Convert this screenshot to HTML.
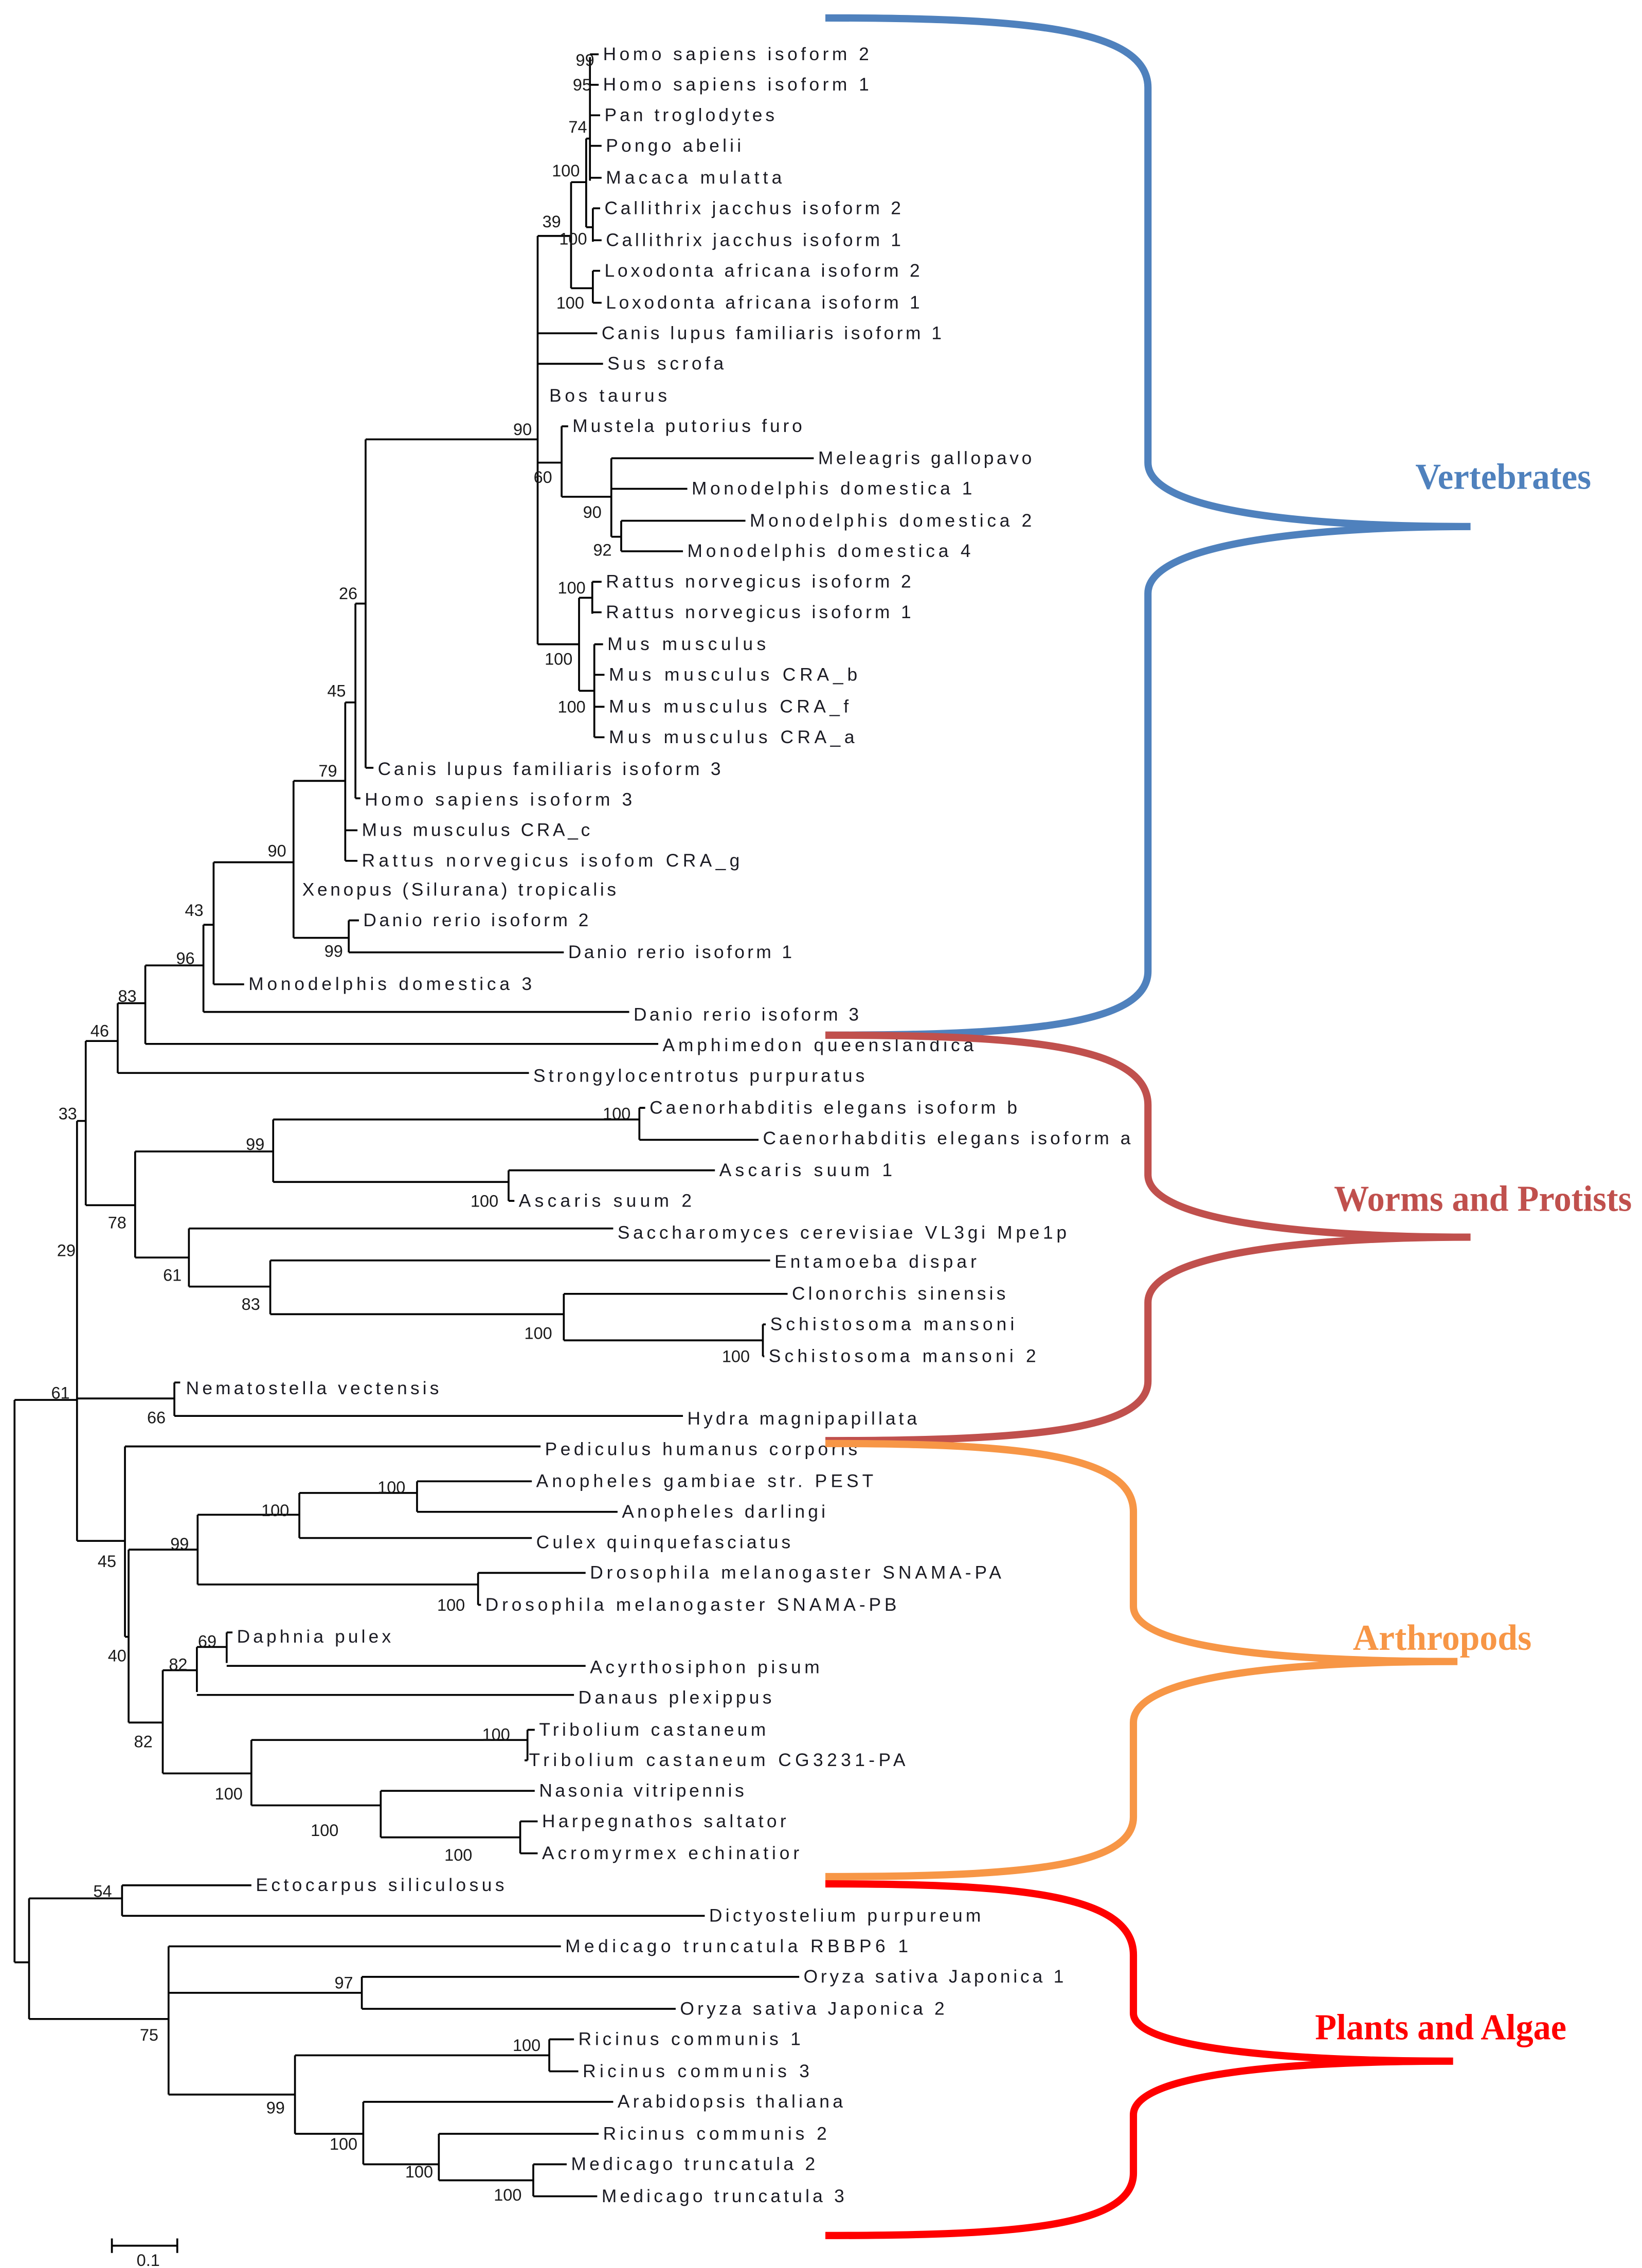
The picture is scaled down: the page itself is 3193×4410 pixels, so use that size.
<!DOCTYPE html>
<html><head><meta charset="utf-8"><style>
html,body{margin:0;padding:0;background:#fff;}
svg{display:block;}
.t{font-family:"Liberation Sans",sans-serif;font-size:12.5px;fill:#1a1a22;}
.b{font-family:"Liberation Sans",sans-serif;font-size:11.5px;fill:#1a1a1a;text-anchor:end;}
.g{font-family:"Liberation Serif",serif;font-weight:bold;font-size:25px;}
</style></head><body>
<svg width="3193" height="4410" viewBox="0 0 1130 1560" xmlns="http://www.w3.org/2000/svg">
<rect width="1130" height="1560" fill="#fff"/>
<g stroke="#000" stroke-width="1.3" fill="none">
<path d="M10 963V1350M10 963H53M10 1350H20
M53 771V1060M53 771H59M53 962H120M53 1060H86
M59 716V829M59 716H81M59 829H93
M81 690V738M81 690H100M81 738H364
M100 664V718M100 664H140M100 718H453
M140 636V696M140 636H147M140 696H433
M147 593V677M147 593H202M147 677H168
M202 537V645M202 537H237.6M202 645H240
M240 633V655M240 633H247M240 655H388
M237.6 483V592M237.6 483H244.6M237.6 571H246M237.6 592H246
M244.6 415V549M244.6 415H251.6M244.6 549H248
M251.6 302V528M251.6 302H370M251.6 528H257
M370 162V443M370 162H393M370 229H411M370 250H415M370 318H386.5M370 443H398.5
M393 125V198M393 125H403.4M393 198H408
M403.4 95V156M403.4 95H406M403.4 156H408
M406 39V124M406 37H412M406 58H412M406 79H413M406 100H414M406 122H414
M408 143V166M408 143H413M408 165H414
M408 186V208M408 186H413M408 208H414
M386.5 293V341.5M386.5 293H391M386.5 341.5H420.7
M420.7 315V369M420.7 315H560M420.7 336H473M420.7 369H427.5
M427.5 358V379M427.5 358H513M427.5 379H470
M398.5 411V475M398.5 411H407.6M398.5 475H409
M407.6 400V422M407.6 400H414M407.6 421H414
M409 443V507M409 443H415M409 464H416M409 486H416M409 507H416
M93 792V865M93 792H188M93 865H130
M188 770V813M188 770H440M188 813H350
M440 762V784M440 762H444M440 784H522
M350 805V826M350 805H492M350 826H354
M130 845V885M130 845H422M130 885H186
M186 867V904M186 867H530M186 904H388
M388 890V922M388 890H542M388 922H525
M525 911V933M525 911H527M525 933H526
M120 951V974M120 951H124M120 974H470
M86 995V1126M86 995H372M86 1126H88.5
M88.5 1066V1185M88.5 1066H136M88.5 1185H112
M136 1042V1090M136 1042H206M136 1090H329
M206 1027V1058M206 1027H287M206 1058H366
M287 1019V1040M287 1019H366M287 1040H425
M329 1082V1104M329 1082H403M329 1104H331
M112 1149V1220M112 1149H135.5M112 1220H173
M135.5 1133V1164M135.5 1133H156M135.5 1166H395
M156 1123V1144M156 1123H160M156 1146H403
M173 1197V1242M173 1197H363M173 1242H262
M363 1190V1211M363 1190H368M363 1211H361
M262 1232V1264M262 1232H368M262 1264H358
M358 1253V1275M358 1253H370M358 1275H370
M20 1306V1389M20 1306H84M20 1389H116
M84 1297V1318M84 1297H173M84 1318H485
M116 1339V1441M116 1339H386M116 1371H249M116 1441H203
M249 1360V1382M249 1360H550M249 1382H465
M203 1414V1468M203 1414H378M203 1468H250
M378 1403V1425M378 1403H395M378 1425H398
M250 1446V1489M250 1446H422M250 1489H302
M302 1468V1500M302 1468H412M302 1500H367
M367 1489V1511M367 1489H390M367 1511H411
M77 1545H122M77 1540V1550M122 1540V1550"/>
</g>
<g class="t" lengthAdjust="spacing">
<text x="415" y="41" textLength="183">Homo sapiens isoform 2</text>
<text x="415" y="62" textLength="183">Homo sapiens isoform 1</text>
<text x="416" y="83" textLength="117">Pan troglodytes</text>
<text x="417" y="104" textLength="93">Pongo abelii</text>
<text x="417" y="126" textLength="121">Macaca mulatta</text>
<text x="416" y="147" textLength="204">Callithrix jacchus isoform 2</text>
<text x="417" y="169" textLength="203">Callithrix jacchus isoform 1</text>
<text x="416" y="190" textLength="217">Loxodonta africana isoform 2</text>
<text x="417" y="212" textLength="216">Loxodonta africana isoform 1</text>
<text x="414" y="233" textLength="234">Canis lupus familiaris isoform 1</text>
<text x="418" y="254" textLength="80">Sus scrofa</text>
<text x="378" y="276" textLength="81">Bos taurus</text>
<text x="394" y="297" textLength="158">Mustela putorius furo</text>
<text x="563" y="319" textLength="147">Meleagris gallopavo</text>
<text x="476" y="340" textLength="193">Monodelphis domestica 1</text>
<text x="516" y="362" textLength="194">Monodelphis domestica 2</text>
<text x="473" y="383" textLength="195">Monodelphis domestica 4</text>
<text x="417" y="404" textLength="210">Rattus norvegicus isoform 2</text>
<text x="417" y="425" textLength="210">Rattus norvegicus isoform 1</text>
<text x="418" y="447" textLength="109">Mus musculus</text>
<text x="419" y="468" textLength="171">Mus musculus CRA_b</text>
<text x="419" y="490" textLength="165">Mus musculus CRA_f</text>
<text x="419" y="511" textLength="169">Mus musculus CRA_a</text>
<text x="260" y="533" textLength="236">Canis lupus familiaris isoform 3</text>
<text x="251" y="554" textLength="184">Homo sapiens isoform 3</text>
<text x="249" y="575" textLength="157">Mus musculus CRA_c</text>
<text x="249" y="596" textLength="260">Rattus norvegicus isofom  CRA_g</text>
<text x="208" y="616" textLength="216">Xenopus (Silurana) tropicalis</text>
<text x="250" y="637" textLength="155">Danio rerio isoform 2</text>
<text x="391" y="659" textLength="154">Danio rerio isoform 1</text>
<text x="171" y="681" textLength="195">Monodelphis domestica 3</text>
<text x="436" y="702" textLength="155">Danio rerio isoform 3</text>
<text x="456" y="723" textLength="214">Amphimedon queenslandica</text>
<text x="367" y="744" textLength="228">Strongylocentrotus purpuratus</text>
<text x="447" y="766" textLength="253">Caenorhabditis elegans isoform b</text>
<text x="525" y="787" textLength="253">Caenorhabditis elegans isoform a</text>
<text x="495" y="809" textLength="119">Ascaris suum 1</text>
<text x="357" y="830" textLength="119">Ascaris suum 2</text>
<text x="425" y="852" textLength="309">Saccharomyces cerevisiae VL3gi Mpe1p</text>
<text x="533" y="872" textLength="139">Entamoeba dispar</text>
<text x="545" y="894" textLength="147">Clonorchis sinensis</text>
<text x="530" y="915" textLength="168">Schistosoma mansoni</text>
<text x="529" y="937" textLength="184">Schistosoma mansoni 2</text>
<text x="128" y="959" textLength="174">Nematostella vectensis</text>
<text x="473" y="980" textLength="158">Hydra magnipapillata</text>
<text x="375" y="1001" textLength="215">Pediculus humanus corporis</text>
<text x="369" y="1023" textLength="232">Anopheles gambiae str. PEST</text>
<text x="428" y="1044" textLength="140">Anopheles darlingi</text>
<text x="369" y="1065" textLength="175">Culex quinquefasciatus</text>
<text x="406" y="1086" textLength="283">Drosophila melanogaster SNAMA-PA</text>
<text x="334" y="1108" textLength="283">Drosophila melanogaster SNAMA-PB</text>
<text x="163" y="1130" textLength="106">Daphnia pulex</text>
<text x="406" y="1151" textLength="158">Acyrthosiphon pisum</text>
<text x="398" y="1172" textLength="133">Danaus plexippus</text>
<text x="371" y="1194" textLength="156">Tribolium castaneum</text>
<text x="364" y="1215" textLength="259">Tribolium castaneum  CG3231-PA</text>
<text x="371" y="1236" textLength="141">Nasonia vitripennis</text>
<text x="373" y="1257" textLength="168">Harpegnathos saltator</text>
<text x="373" y="1279" textLength="177">Acromyrmex echinatior</text>
<text x="176" y="1301" textLength="171">Ectocarpus siliculosus</text>
<text x="488" y="1322" textLength="187">Dictyostelium purpureum</text>
<text x="389" y="1343" textLength="236">Medicago truncatula  RBBP6 1</text>
<text x="553" y="1364" textLength="179">Oryza sativa Japonica 1</text>
<text x="468" y="1386" textLength="182">Oryza sativa Japonica 2</text>
<text x="398" y="1407" textLength="153">Ricinus communis 1</text>
<text x="401" y="1429" textLength="156">Ricinus communis 3</text>
<text x="425" y="1450" textLength="155">Arabidopsis thaliana</text>
<text x="415" y="1472" textLength="154">Ricinus communis 2</text>
<text x="393" y="1493" textLength="168">Medicago truncatula 2</text>
<text x="414" y="1515" textLength="167">Medicago truncatula 3</text>
</g>
<g class="b">
<text x="409" y="45">99</text><text x="407" y="62">95</text><text x="404" y="91">74</text>
<text x="399" y="121">100</text><text x="386" y="156">39</text><text x="404" y="168">100</text>
<text x="402" y="212">100</text><text x="366" y="299">90</text><text x="380" y="332">60</text>
<text x="414" y="356">90</text><text x="421" y="382">92</text><text x="403" y="408">100</text>
<text x="394" y="457">100</text><text x="403" y="490">100</text><text x="246" y="412">26</text>
<text x="238" y="479">45</text><text x="232" y="534">79</text><text x="197" y="589">90</text>
<text x="140" y="630">43</text><text x="236" y="658">99</text><text x="134" y="663">96</text>
<text x="94" y="689">83</text><text x="75" y="713">46</text><text x="53" y="770">33</text>
<text x="182" y="791">99</text><text x="434" y="770">100</text><text x="343" y="830">100</text>
<text x="87" y="845">78</text><text x="52" y="864">29</text><text x="125" y="881">61</text>
<text x="179" y="901">83</text><text x="380" y="921">100</text><text x="516" y="937">100</text>
<text x="48" y="962">61</text><text x="114" y="979">66</text><text x="279" y="1027">100</text>
<text x="199" y="1043">100</text><text x="130" y="1066">99</text><text x="80" y="1078">45</text>
<text x="320" y="1108">100</text><text x="149" y="1133">69</text><text x="87" y="1143">40</text>
<text x="129" y="1149">82</text><text x="351" y="1197">100</text><text x="105" y="1202">82</text>
<text x="167" y="1238">100</text><text x="233" y="1263">100</text><text x="325" y="1280">100</text>
<text x="77" y="1305">54</text><text x="243" y="1368">97</text><text x="109" y="1404">75</text>
<text x="372" y="1411">100</text><text x="196" y="1454">99</text><text x="246" y="1479">100</text>
<text x="298" y="1498">100</text><text x="359" y="1514">100</text>
<text x="110" y="1559">0.1</text>
</g>
<g fill="none" stroke-width="5">
<path stroke="#4f81bd" d="M568 12C700 12 790 18 790 60L790 318C790 352 900 362 1012 362C900 362 790 374 790 408L790 668C790 706 700 712 568 712"/>
<path stroke="#c0504d" d="M568 712C700 712 790 718 790 760L790 808C790 840 900 851 1012 851C900 851 790 862 790 896L790 950C790 985 700 991 568 991"/>
<path stroke="#f79646" d="M568 993C700 993 780 1000 780 1040L780 1105C780 1135 890 1143 1003 1143C890 1143 780 1152 780 1185L780 1250C780 1285 700 1291 568 1291"/>
<path stroke="#ff0000" d="M568 1296C700 1296 780 1303 780 1345L780 1385C780 1410 890 1418 1000 1418C890 1418 780 1426 780 1455L780 1495C780 1532 700 1538 568 1538"/>
</g>
<text class="g" x="974" y="336" fill="#4f81bd" textLength="121" lengthAdjust="spacingAndGlyphs">Vertebrates</text>
<text class="g" x="918" y="833" fill="#c0504d" textLength="205" lengthAdjust="spacingAndGlyphs">Worms and Protists</text>
<text class="g" x="931" y="1135" fill="#f79646" textLength="123" lengthAdjust="spacingAndGlyphs">Arthropods</text>
<text class="g" x="905" y="1403" fill="#ff0000" textLength="173" lengthAdjust="spacingAndGlyphs">Plants and Algae</text>
</svg>
</body></html>
